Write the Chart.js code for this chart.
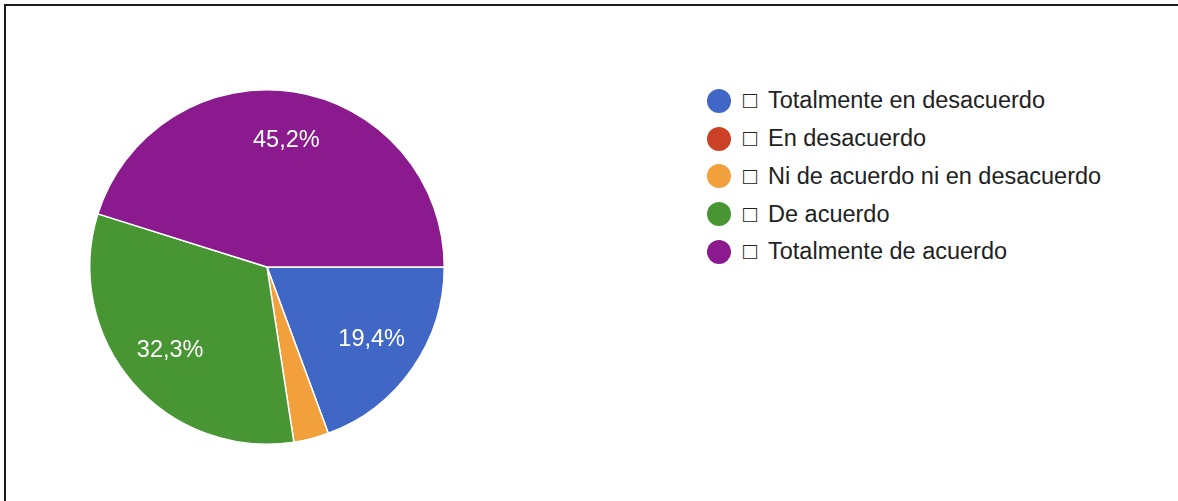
<!DOCTYPE html>
<html>
<head>
<meta charset="utf-8">
<script src="https://cdn.jsdelivr.net/npm/chart.js@4/dist/chart.umd.min.js"></script>
<style>
  html, body { margin: 0; padding: 0; background: #fff; }
  body { width: 1178px; height: 501px; position: relative; overflow: hidden; }
  #frame {
    position: absolute; left: 4px; top: 4px; right: -10px; bottom: -10px;
    border-top: 2px solid #1c1c1c; border-left: 2px solid #1c1c1c;
  }
  #pieWrap { position: absolute; left: 0; top: 0; width: 534px; height: 501px; }
  #legend {
    position: absolute; left: 707px; top: 82px;
    font-family: "Liberation Sans", Arial, "DejaVu Sans", sans-serif;
    font-size: 23.5px; color: #222;
  }
  .item { display: flex; align-items: center; height: 37.75px; white-space: nowrap; }
  .dot { width: 24px; height: 24px; border-radius: 50%; margin-right: 12px; flex: none; }
  .box { width: 25px; flex: none; }
</style>
</head>
<body>
<div id="frame"></div>
<div id="pieWrap"><canvas id="pieChart" width="534" height="501"></canvas></div>
<div id="legend"></div>
<script>
// Respuestas de la encuesta (porcentajes)
const categories = ['Totalmente en desacuerdo', 'En desacuerdo', 'Ni de acuerdo ni en desacuerdo', 'De acuerdo', 'Totalmente de acuerdo'];
const percentages = [19.4, 0, 3.2, 32.3, 45.2];
const sliceColors = ['#4167c6', '#cc4125', '#f1a03b', '#489533', '#8b1a8f'];

// etiquetas de porcentaje dentro de cada porción
const sliceLabels = {
    id: 'sliceLabels',
    afterDatasetsDraw(chart) {
        const ctx = chart.ctx;
        const meta = chart.getDatasetMeta(0);
        ctx.save();
        ctx.fillStyle = '#fff';
        ctx.font = '23.5px "Liberation Sans", Arial, sans-serif';
        ctx.textAlign = 'center';
        ctx.textBaseline = 'middle';
        meta.data.forEach((arc, i) => {
            const v = percentages[i];
            if (v < 5) return;
            const mid = (arc.startAngle + arc.endAngle) / 2;
            const r = arc.outerRadius * 0.72;
            const x = arc.x + Math.cos(mid) * r;
            const y = arc.y + Math.sin(mid) * r;
            ctx.fillText(v.toFixed(1).replace('.', ',') + '%', x, y);
        });
        ctx.restore();
    }
};

const pieCtx = document.getElementById('pieChart').getContext('2d');
const pieChart = new Chart(pieCtx, {
    type: 'pie',
    data: {
        labels: categories,
        datasets: [{
            data: percentages,
            backgroundColor: sliceColors,
            borderColor: '#ffffff',
            borderWidth: 1.5
        }]
    },
    options: {
        responsive: false,
        animation: false,
        rotation: 90,
        layout: { padding: { top: 89, bottom: 56, left: 89, right: 89 } },
        plugins: {
            legend: { display: false },
            tooltip: { enabled: false }
        }
    },
    plugins: [sliceLabels]
});

// leyenda a la derecha
const legendBox = document.getElementById('legend');
pieChart.data.labels.forEach((label, i) => {
    const row = document.createElement('div');
    row.className = 'item';
    const dot = document.createElement('span');
    dot.className = 'dot';
    dot.style.background = sliceColors[i];
    const box = document.createElement('span');
    box.className = 'box';
    box.textContent = '\u25A1';
    const txt = document.createElement('span');
    txt.textContent = label;
    row.appendChild(dot);
    row.appendChild(box);
    row.appendChild(txt);
    legendBox.appendChild(row);
});
</script>
</body>
</html>
